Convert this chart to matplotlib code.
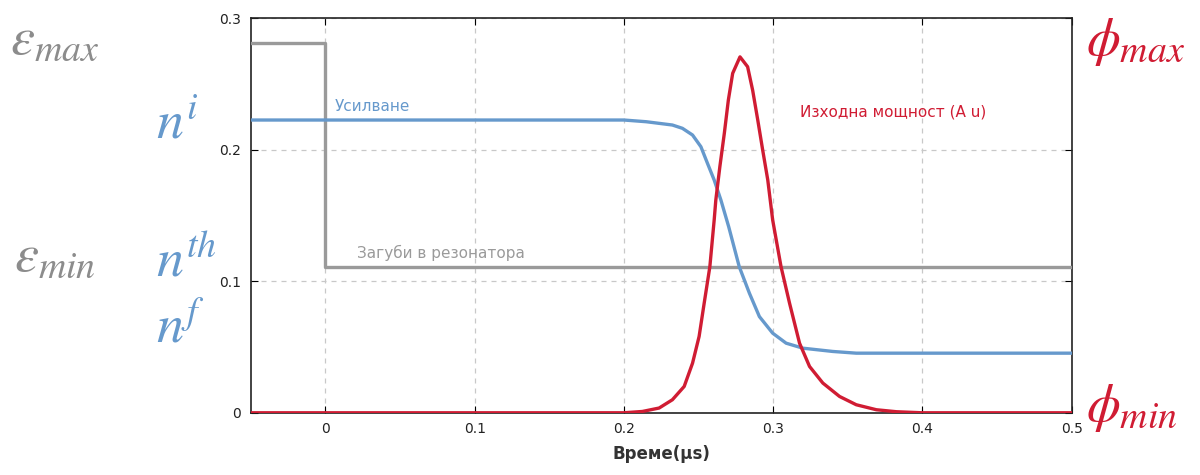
import matplotlib
matplotlib.use("Agg")
import matplotlib.pyplot as plt

# loss in resonator (step at t = 0)
loss_t = [-0.05, 0.0, 0.0, 0.5]
loss_v = [0.281, 0.281, 0.111, 0.111]

# gain (population inversion)
gain_t = [-0.05, 0.0, 0.10, 0.20, 0.215, 0.2325, 0.2392, 0.246, 0.2516, 0.256, 0.2605,
          0.265, 0.2702, 0.2773, 0.2841, 0.2908, 0.2997, 0.3087, 0.3199, 0.340, 0.3557,
          0.40, 0.5]
gain_v = [0.2225, 0.2225, 0.2225, 0.2225, 0.2212, 0.2187, 0.2162, 0.2111, 0.2022, 0.1896, 0.1769,
          0.1617, 0.1415, 0.111, 0.0909, 0.0731, 0.0605, 0.0529, 0.0491, 0.0466, 0.0453,
          0.0453, 0.0453]

# output power (arb. units)
power_t = [-0.05, 0.0, 0.20, 0.2124, 0.2236, 0.2325, 0.2404, 0.246, 0.2504, 0.2538, 0.2576,
           0.2605, 0.2616, 0.2643, 0.2673, 0.270, 0.2729, 0.2778, 0.2829, 0.2863, 0.2897,
           0.293, 0.2964, 0.2997, 0.3053, 0.311, 0.3177, 0.3244, 0.3333, 0.3445, 0.3557,
           0.3692, 0.3826, 0.40, 0.5]
power_v = [0.0, 0.0, 0.0, 0.001, 0.0036, 0.0099, 0.020, 0.0377, 0.058, 0.0833, 0.111,
           0.1465, 0.1617, 0.187, 0.2124, 0.2377, 0.258, 0.2705, 0.263, 0.245, 0.2225,
           0.1997, 0.177, 0.1465, 0.111, 0.0833, 0.0529, 0.0352, 0.0226, 0.0124, 0.0061,
           0.0023, 0.0008, 0.0, 0.0]

x_ticks = [0, 0.1, 0.2, 0.3, 0.4, 0.5]
x_tick_labels = ["0", "0.1", "0.2", "0.3", "0.4", "0.5"]
y_ticks = [0, 0.1, 0.2, 0.3]
y_tick_labels = ["0", "0.1", "0.2", "0.3"]

GRAY = "#9a9a9a"
BLUE = "#6699cc"
RED = "#d01c33"

plt.rcParams["mathtext.fontset"] = "stix"

fig = plt.figure(figsize=(12, 4.75), dpi=100)
ax = fig.add_axes([0.209, 0.131, 0.684, 0.831])

ax.plot(loss_t, loss_v, color=GRAY, lw=2.4, zorder=3)
ax.plot(gain_t, gain_v, color=BLUE, lw=2.4, zorder=4)
ax.plot(power_t, power_v, color=RED, lw=2.4, zorder=5)

ax.set_xlim(-0.05, 0.5)
ax.set_ylim(0, 0.3)
ax.set_xticks(x_ticks)
ax.set_xticklabels(x_tick_labels)
ax.set_yticks(y_ticks)
ax.set_yticklabels(y_tick_labels)
ax.tick_params(direction="in", top=True, right=True, labelsize=10, length=5, pad=7,
               labelcolor="#222222")
ax.grid(True, color="#c8c8c8", linestyle=(0, (4, 4)), lw=0.9)
for s in ax.spines.values():
    s.set_linewidth(1.2)
    s.set_color("#222222")
ax.set_xlabel("Време(µs)", fontsize=12, fontweight="bold", color="#333333", labelpad=6)

# in-plot annotations
ax.text(0.006, 0.227, "Усилване", color=BLUE, fontsize=11, va="bottom")
ax.text(0.021, 0.115, "Загуби в резонатора", color=GRAY, fontsize=11, va="bottom")
ax.text(0.318, 0.223, "Изходна мощност (A u)", color=RED, fontsize=11, va="bottom")

# outer symbols
fs = 39
fig.text(0.008, 0.918, r"$\varepsilon_{max}$", color="#8c8c8c", fontsize=fs, va="center")
fig.text(0.012, 0.462, r"$\varepsilon_{min}$", color="#8c8c8c", fontsize=fs, va="center")
fig.text(0.13, 0.74, r"$n^{i}$", color=BLUE, fontsize=fs, va="center")
fig.text(0.13, 0.45, r"$n^{th}$", color=BLUE, fontsize=fs, va="center")
fig.text(0.13, 0.31, r"$n^{f}$", color=BLUE, fontsize=fs, va="center")
fig.text(0.905, 0.912, r"$\phi_{max}$", color=RED, fontsize=fs, va="center")
fig.text(0.905, 0.14, r"$\phi_{min}$", color=RED, fontsize=fs, va="center")

fig.savefig("out.png", dpi=100)
